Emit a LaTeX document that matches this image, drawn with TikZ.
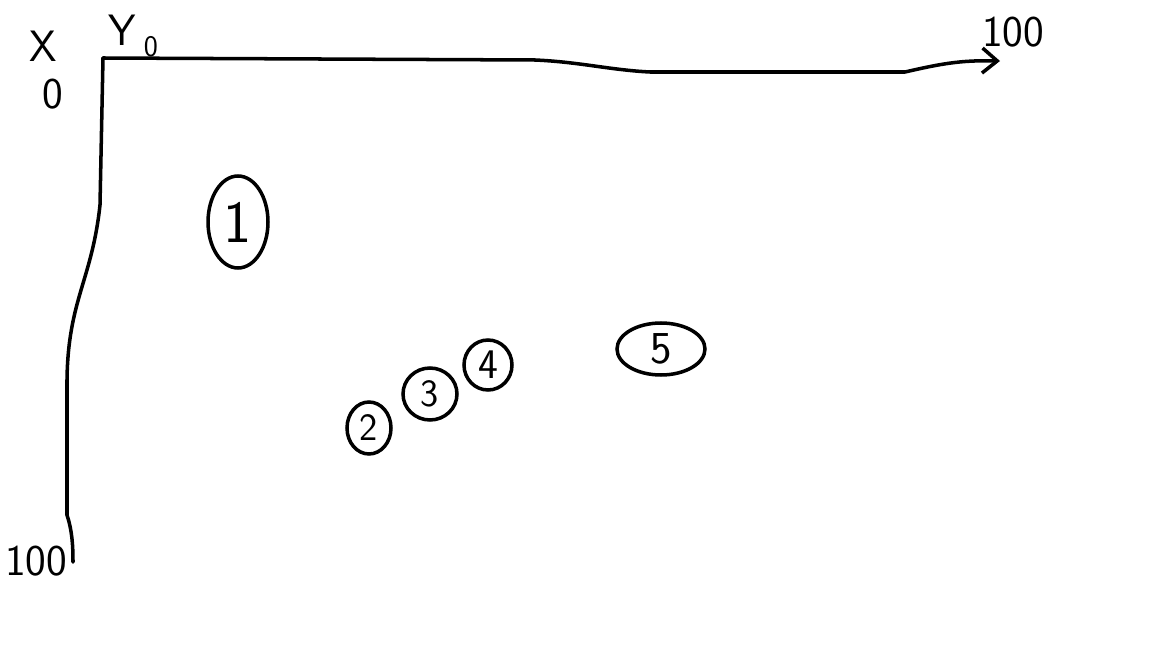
\documentclass[tikz,border=0pt]{standalone}
\usepackage{tikz}
\usetikzlibrary{shapes.geometric,arrows.meta}
\tikzset{
    every path/.style={line width=2pt},
    blob/.style={draw, ellipse, inner sep=0pt, line width=2pt},
    lbl/.style={inner sep=0pt, font=\sffamily\fontsize{25}{27}\selectfont},
    small/.style={inner sep=0pt, font=\sffamily\fontsize{17}{18}\selectfont},
    axis/.style={-{Straight Barb[length=3mm,width=5mm]}, line cap=round}
}
\begin{document}
\begin{tikzpicture}[x=0.02cm, y=-0.02cm]
\useasboundingbox (0,0) rectangle (1152,648);

\coordinate (o) at (103,58);
\coordinate (xend) at (1000,61);
\coordinate (yend) at (73,562);

\node[lbl] at (43,46) (xl) {X};
\node[lbl] at (53,94) (x0) {0};
\node[lbl] at (122,30) (yl) {Y};
\node[small] at (151,47) (y0) {0};
\node[lbl] at (1013,32) (xmax) {100};
\node[lbl] at (36,561) (ymax) {100};

\node[blob, minimum width=1.2cm, minimum height=1.84cm, font=\sffamily\fontsize{34}{36}\selectfont] at (238,222) (n1) {1};
\node[blob, minimum width=0.88cm, minimum height=1.04cm, font=\sffamily\fontsize{22}{24}\selectfont] at (369,428) (n2) {2};
\node[blob, minimum width=1.08cm, minimum height=1.04cm, font=\sffamily\fontsize{22}{24}\selectfont] at (430,394) (n3) {3};
\node[blob, minimum width=0.96cm, minimum height=1.0cm, font=\sffamily\fontsize{24}{26}\selectfont] at (488,365) (n4) {4};
\node[blob, minimum width=1.76cm, minimum height=1.04cm, font=\sffamily\fontsize{26}{28}\selectfont] at (661,349) (n5) {5};

% axes
\draw[axis] (o) -- (535,60) .. controls (580,62) and (610,70) .. (650,72)
    -- (905,72) .. controls (940,64) and (960,60) .. (xend);
\draw[line cap=round] (o) -- (100,205) .. controls (92,280) and (68,300) .. (67,380)
    -- (67,515) .. controls (72,530) and (73,545) .. (yend);
\end{tikzpicture}
\end{document}
